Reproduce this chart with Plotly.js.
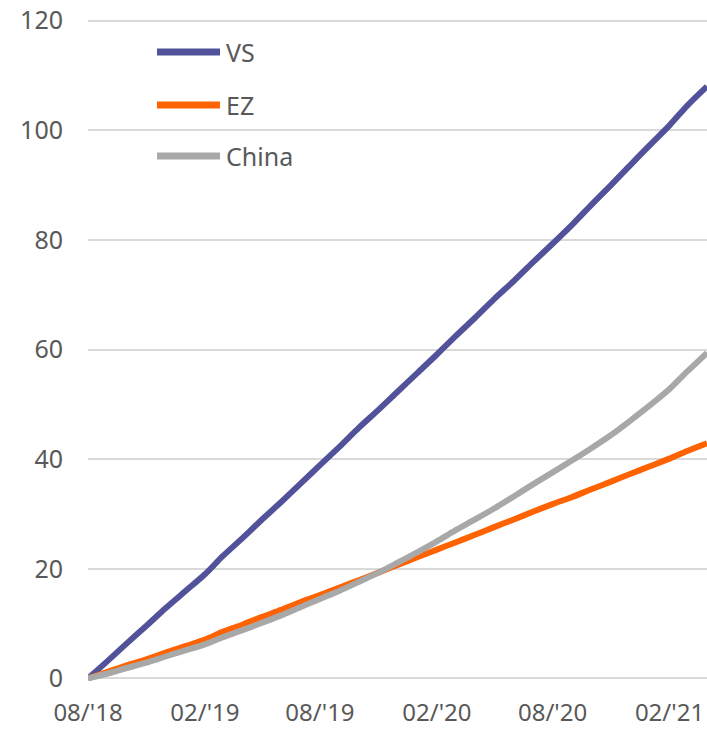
<!DOCTYPE html>
<html>
<head>
<meta charset="utf-8">
<script src="https://cdn.plot.ly/plotly-3.0.1.min.js"></script>
<style>
  html, body { margin: 0; padding: 0; background: #ffffff; }
  #chart { width: 707px; height: 729px; }
</style>
</head>
<body>
<div id="chart"></div>
<script>
// ---- DATA ----
const dates = [
  '2018-08-01','2018-09-01','2018-10-01','2018-11-01','2018-12-01',
  '2019-01-01','2019-02-01','2019-03-01','2019-04-01','2019-05-01','2019-06-01',
  '2019-07-01','2019-08-01','2019-09-01','2019-10-01','2019-11-01','2019-12-01',
  '2020-01-01','2020-02-01','2020-03-01','2020-04-01','2020-05-01','2020-06-01',
  '2020-07-01','2020-08-01','2020-09-01','2020-10-01','2020-11-01','2020-12-01',
  '2021-01-01','2021-02-01','2021-03-01','2021-04-01'
];
const vs = [
  0, 3.2, 6.4, 9.6, 12.8, 15.9, 19.0, 22.3, 25.6, 28.9, 32.2,
  35.5, 38.9, 42.3, 45.7, 49.0, 52.3, 55.7, 59.1, 62.4, 65.8,
  69.2, 72.5, 75.9, 79.3, 82.8, 86.4, 90.0, 93.6, 97.3, 100.9,
  104.5, 108.0
];
const ez = [
  0, 1.2, 2.4, 3.5, 4.7, 5.9, 7.1, 8.5, 9.8, 11.2, 12.5,
  13.9, 15.2, 16.6, 17.9, 19.3, 20.7, 22.1, 23.5, 24.8, 26.2,
  27.6, 29.0, 30.4, 31.8, 33.1, 34.5, 35.9, 37.3, 38.7, 40.1,
  41.5, 42.9
];
const china = [
  0, 0.9, 1.9, 2.9, 4.0, 5.1, 6.2, 7.5, 8.8, 10.1, 11.5,
  13.0, 14.5, 16.0, 17.6, 19.3, 21.1, 23.0, 25.0, 27.0, 29.0,
  31.0, 33.2, 35.4, 37.6, 39.8, 42.0, 44.4, 47.0, 49.8, 52.8,
  56.0, 59.4
];
const seriesNames = ['VS', 'EZ', 'China'];
const tickDates = ['2018-08-01','2019-02-01','2019-08-01','2020-02-01','2020-08-01','2021-02-01'];
const tickLabels = ["08/'18", "02/'19", "08/'19", "02/'20", "08/'20", "02/'21"];
const yTicks = [0, 20, 40, 60, 80, 100, 120];

// ---- STYLE ----
const colors = ['#52529A', '#FF6200', '#A8A8A8'];
const textColor = '#595959';
const fontFamily = 'Noto Sans, Open Sans, sans-serif';
const W = 707, H = 729;
const M = { l: 88, r: 0, t: 19, b: 44 };

const seriesValues = [vs, ez, china];
const traces = seriesValues.map((vals, i) => ({
  type: 'scatter',
  mode: 'lines',
  x: dates,
  y: vals,
  name: seriesNames[i],
  line: { color: colors[i], width: 6, shape: 'spline', smoothing: 0.8 },
  showlegend: false,
  hoverinfo: 'skip'
}));

// custom legend (line samples + labels) placed in pixel terms
const plotW = W - M.l - M.r, plotH = H - M.t - M.b;
const px = x => (x - M.l) / plotW;
const py = y => (H - M.b - y) / plotH;
const legendY = [52, 105, 156];
const shapes = [], annotations = [];
seriesNames.forEach((n, i) => {
  shapes.push({
    type: 'line', xref: 'paper', yref: 'paper',
    x0: px(157), x1: px(220), y0: py(legendY[i]), y1: py(legendY[i]),
    line: { color: colors[i], width: 7 }, layer: 'above'
  });
  annotations.push({
    xref: 'paper', yref: 'paper', x: px(224), y: py(legendY[i]),
    xanchor: 'left', yanchor: 'middle', showarrow: false,
    text: n, font: { family: fontFamily, size: 25, color: textColor }
  });
});

const layout = {
  width: W, height: H,
  margin: M,
  paper_bgcolor: '#ffffff',
  plot_bgcolor: '#ffffff',
  showlegend: false,
  xaxis: {
    type: 'date',
    range: ['2018-08-01', '2021-04-01'],
    tickmode: 'array',
    tickvals: tickDates,
    ticktext: tickLabels,
    showgrid: false, zeroline: false, showline: false,
    ticks: '',
    ticklabelstandoff: 11,
    tickfont: { family: fontFamily, size: 24, color: textColor }
  },
  yaxis: {
    range: [-1.2, 120.3],
    tickmode: 'array',
    tickvals: yTicks,
    showgrid: true, gridcolor: '#d9d9d9', gridwidth: 2,
    zeroline: false, showline: false,
    ticks: '',
    ticklabelstandoff: 24,
    tickfont: { family: fontFamily, size: 25, color: textColor }
  },
  shapes: shapes,
  annotations: annotations
};

Plotly.newPlot('chart', traces, layout, { staticPlot: true, displayModeBar: false });
</script>
</body>
</html>
